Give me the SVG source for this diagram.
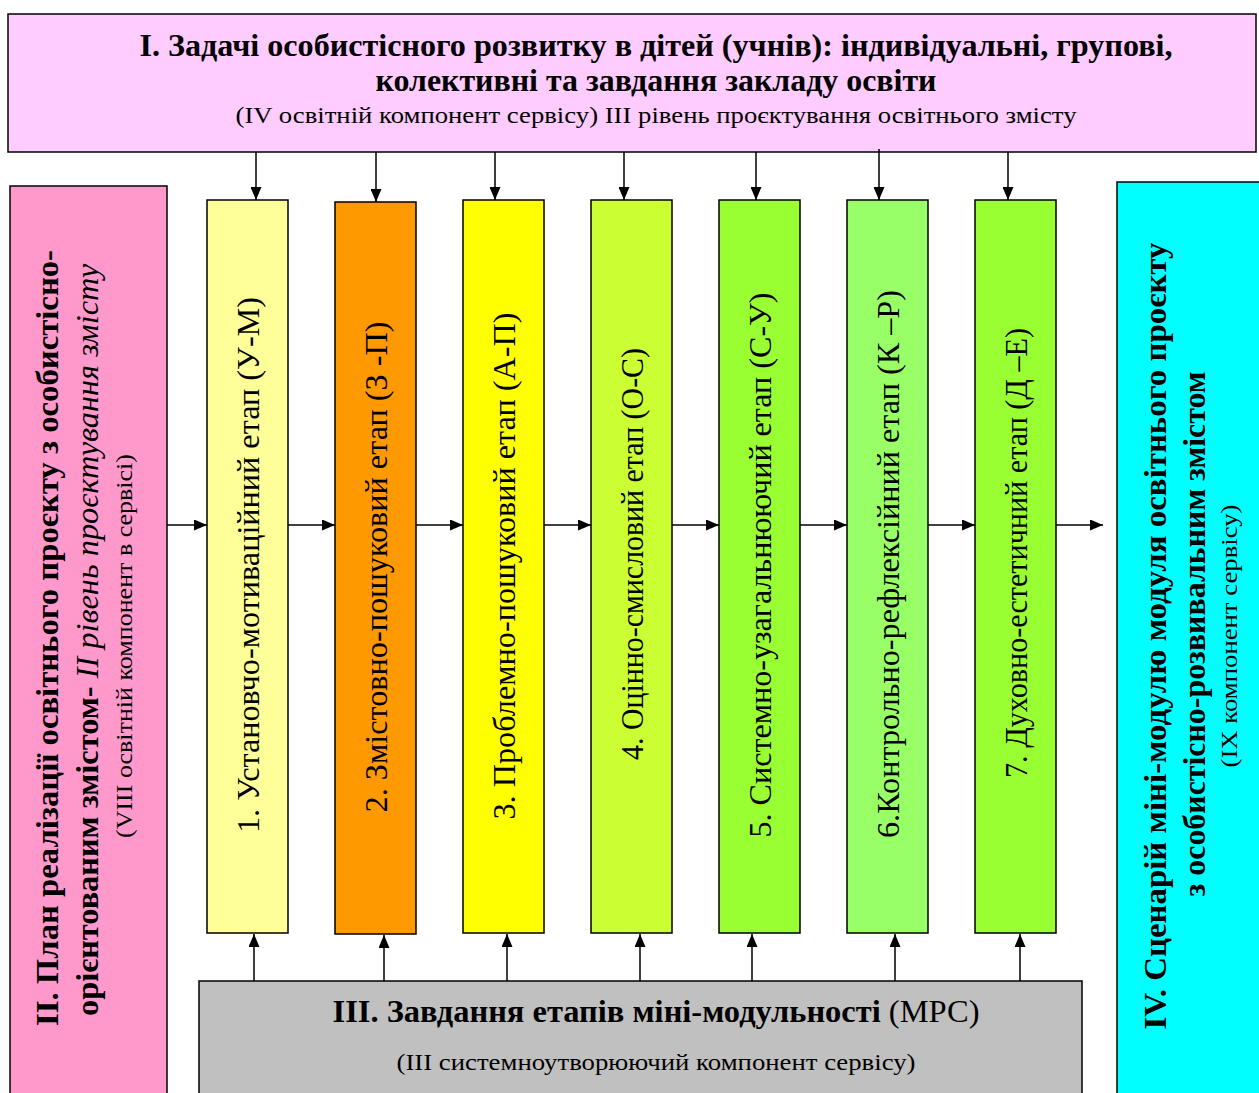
<svg xmlns="http://www.w3.org/2000/svg" width="1259" height="1093" viewBox="0 0 1259 1093">
<defs>
<marker id="ah" markerUnits="userSpaceOnUse" markerWidth="13" markerHeight="11" refX="13" refY="5.5" orient="auto">
<path d="M0,0 L13,5.5 L0,11 z" fill="#000"/>
</marker>
<style>
.box{stroke:#000;stroke-width:1.5}
.t{font-family:"Liberation Serif","Times New Roman",serif;fill:#000}
.b{font-weight:bold}
.col{font-size:31px}
.big{font-size:31px}
.hd{font-size:32px}
.sm{font-size:23px}
.c line{stroke:#000;stroke-width:1.5;marker-end:url(#ah)}
</style>
</defs>
<rect width="1259" height="1093" fill="#fff"/>

<g id="top">
<rect class="box" x="8" y="14" width="1248" height="138" fill="#FFCCFF"/>
<text class="t b hd" x="656" y="56" text-anchor="middle" textLength="1033" lengthAdjust="spacingAndGlyphs">І. Задачі особистісного розвитку в дітей (учнів): індивідуальні, групові,</text>
<text class="t b hd" x="656" y="91" text-anchor="middle" textLength="561" lengthAdjust="spacingAndGlyphs">колективні та завдання закладу освіти</text>
<text class="t sm" x="656" y="123" text-anchor="middle" textLength="841" lengthAdjust="spacingAndGlyphs">(IV освітній компонент сервісу) ІІІ рівень проєктування освітнього змісту</text>
</g>

<g id="left">
<rect class="box" x="10" y="186" width="157" height="920" fill="#FF99CC"/>
<text class="t b big" transform="translate(58,638) rotate(-90)" text-anchor="middle" textLength="776" lengthAdjust="spacingAndGlyphs">ІІ. План реалізації освітнього проєкту з особистісно-</text>
<text class="t big" transform="translate(98,640) rotate(-90)" text-anchor="middle" textLength="752" lengthAdjust="spacingAndGlyphs"><tspan font-weight="bold">орієнтованим змістом- </tspan><tspan font-style="italic">ІІ рівень проєктування змісту</tspan></text>
<text class="t sm" transform="translate(132,646) rotate(-90)" text-anchor="middle" textLength="384" lengthAdjust="spacingAndGlyphs">(VІІІ освітній компонент в сервісі)</text>
</g>

<g id="right">
<rect class="box" x="1117" y="182" width="150" height="930" fill="#00FFFF"/>
<text class="t b big" transform="translate(1166,636) rotate(-90)" text-anchor="middle" textLength="787" lengthAdjust="spacingAndGlyphs">ІV. Сценарій міні-модулю модуля  освітнього проєкту</text>
<text class="t b big" transform="translate(1205,634) rotate(-90)" text-anchor="middle" textLength="525" lengthAdjust="spacingAndGlyphs">з особистісно-розвивальним змістом</text>
<text class="t sm" transform="translate(1237,636) rotate(-90)" text-anchor="middle" textLength="263" lengthAdjust="spacingAndGlyphs">(ІХ компонент сервісу)</text>
</g>

<g id="bottom">
<rect class="box" x="199" y="981" width="883" height="130" fill="#C0C0C0"/>
<text class="t big" x="656" y="1022" text-anchor="middle" textLength="647" lengthAdjust="spacingAndGlyphs"><tspan font-weight="bold">ІІІ. Завдання етапів міні-модульності</tspan>  (МРС)</text>
<text class="t sm" x="656" y="1070" text-anchor="middle" textLength="519" lengthAdjust="spacingAndGlyphs">(ІІІ системноутворюючий компонент сервісу)</text>
</g>

<g id="stage1">
<rect class="box" x="207" y="200" width="81" height="733" fill="#FFFF99"/>
<text class="t col" transform="translate(259,565) rotate(-90)" text-anchor="middle" textLength="536" lengthAdjust="spacingAndGlyphs">1. Установчо-мотиваційний етап (У-М)</text>
</g>
<g id="stage2">
<rect class="box" x="335" y="202" width="81" height="732" fill="#FF9900"/>
<text class="t col" transform="translate(387,567) rotate(-90)" text-anchor="middle" textLength="491" lengthAdjust="spacingAndGlyphs">2. Змістовно-пошуковий етап (З -П)</text>
</g>
<g id="stage3">
<rect class="box" x="463" y="200" width="81" height="733" fill="#FFFF00"/>
<text class="t col" transform="translate(515,566) rotate(-90)" text-anchor="middle" textLength="507" lengthAdjust="spacingAndGlyphs">3. Проблемно-пошуковий етап (А-П)</text>
</g>
<g id="stage4">
<rect class="box" x="591" y="200" width="81" height="733" fill="#CCFF33"/>
<text class="t col" transform="translate(643,554) rotate(-90)" text-anchor="middle" textLength="412" lengthAdjust="spacingAndGlyphs">4. Оцінно-смисловий етап (О-С)</text>
</g>
<g id="stage5">
<rect class="box" x="719" y="200" width="81" height="733" fill="#99FF33"/>
<text class="t col" transform="translate(771,565) rotate(-90)" text-anchor="middle" textLength="545" lengthAdjust="spacingAndGlyphs">5. Системно-узагальнюючий етап (С-У)</text>
</g>
<g id="stage6">
<rect class="box" x="847" y="200" width="81" height="733" fill="#99FF66"/>
<text class="t col" transform="translate(899,564) rotate(-90)" text-anchor="middle" textLength="548" lengthAdjust="spacingAndGlyphs">6.Контрольно-рефлексійний етап (К –Р)</text>
</g>
<g id="stage7">
<rect class="box" x="975" y="200" width="81" height="733" fill="#99FF33"/>
<text class="t col" transform="translate(1027,553) rotate(-90)" text-anchor="middle" textLength="450" lengthAdjust="spacingAndGlyphs">7. Духовно-естетичний етап (Д –Е)</text>
</g>

<g id="connectors" class="c">
<line x1="256" y1="152" x2="256" y2="200"/>
<line x1="376" y1="152" x2="376" y2="202"/>
<line x1="495" y1="152" x2="495" y2="200"/>
<line x1="624" y1="152" x2="624" y2="200"/>
<line x1="756" y1="152" x2="756" y2="200"/>
<line x1="879" y1="149" x2="879" y2="200"/>
<line x1="1008" y1="152" x2="1008" y2="200"/>
<line x1="254" y1="981" x2="254" y2="934"/>
<line x1="384" y1="981" x2="384" y2="935"/>
<line x1="507" y1="981" x2="507" y2="934"/>
<line x1="640" y1="981" x2="640" y2="934"/>
<line x1="752" y1="981" x2="752" y2="934"/>
<line x1="895" y1="981" x2="895" y2="934"/>
<line x1="1020" y1="981" x2="1020" y2="934"/>
<line x1="167" y1="525" x2="207" y2="525"/>
<line x1="288" y1="525" x2="335" y2="525"/>
<line x1="416" y1="525" x2="463" y2="525"/>
<line x1="544" y1="525" x2="591" y2="525"/>
<line x1="672" y1="525" x2="719" y2="525"/>
<line x1="800" y1="525" x2="847" y2="525"/>
<line x1="928" y1="525" x2="975" y2="525"/>
<line x1="1056" y1="525" x2="1103" y2="525"/>
</g>
</svg>
